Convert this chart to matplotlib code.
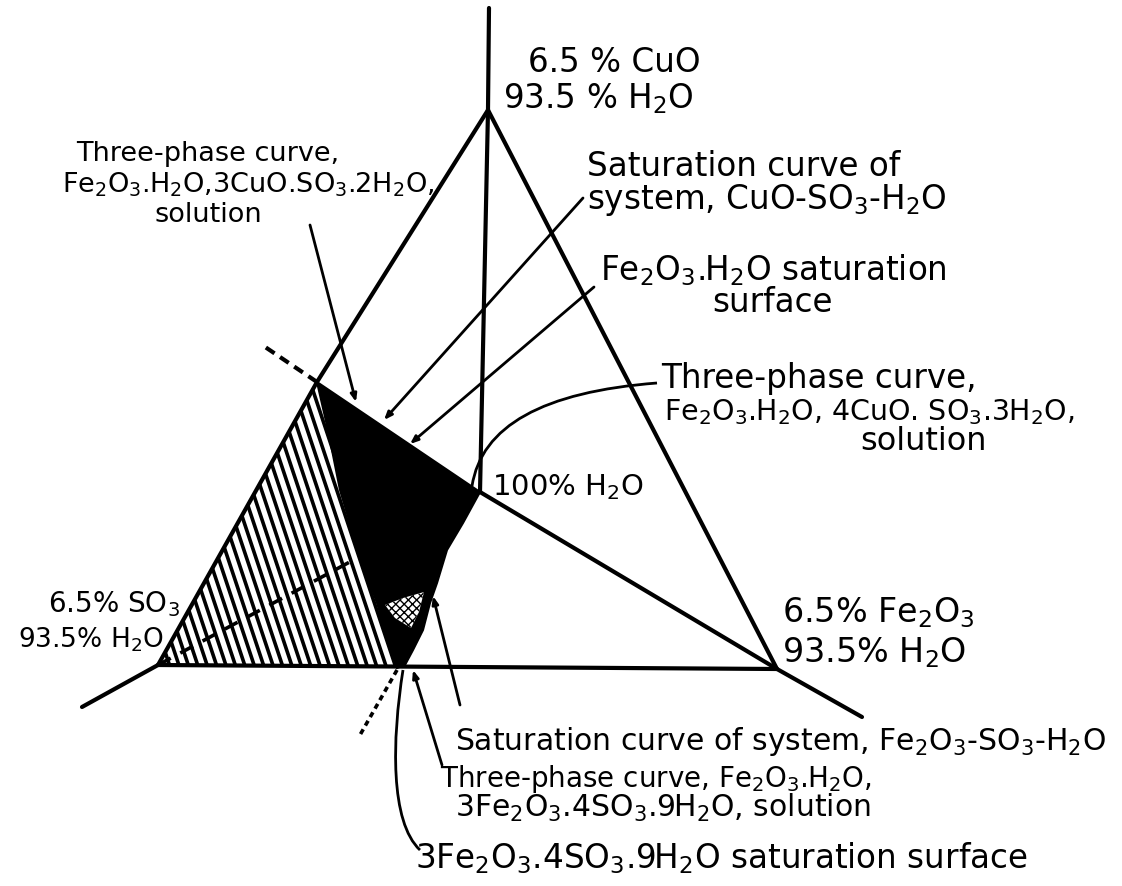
import numpy as np
import matplotlib.pyplot as plt
from matplotlib.patches import Polygon, PathPatch
from matplotlib.path import Path
from matplotlib.collections import LineCollection

plt.rcParams['font.family'] = 'DejaVu Sans'
plt.rcParams['mathtext.fontset'] = 'custom'
plt.rcParams['mathtext.rm'] = 'DejaVu Sans'
plt.rcParams['mathtext.default'] = 'regular'
plt.rcParams['hatch.linewidth'] = 1.0

# corner points of the projected diagram (drawing units, y downwards)
water = (480, 492)          # 100 % H2O
cuo = (488, 110)            # 6.5 % CuO, 93.5 % H2O
so3 = (158, 665)            # 6.5 % SO3, 93.5 % H2O
fe2o3 = (777, 669)          # 6.5 % Fe2O3, 93.5 % H2O
cuo_axis_end = (489, 8)
so3_axis_end = (82, 707)
fe2o3_axis_end = (862, 717)
edge_point = (317, 382)     # CuO-SO3-H2O curve meets the CuO-SO3 edge

# Fe2O3.H2O saturation surface (solid black)
surface_x = [317, 480, 463, 447, 437, 430, 423, 413, 405, 397, 392, 385, 377, 360, 340, 328]
surface_y = [382, 492, 523, 550, 583, 603, 630, 650, 665, 668, 655, 630, 603, 557, 490, 430]

# 3Fe2O3.4SO3.9H2O saturation surface (stippled)
basic_x = [385, 403, 424, 419, 411, 395]
basic_y = [605, 598, 592, 612, 628, 618]

# hatched face, bounded by the SO3 corner and the black surface
hatch_x = [so3[0], 317, 328, 340, 360, 377, 385, 392, 397]
hatch_y = [so3[1], 382, 430, 490, 557, 603, 630, 655, 668]

# leader lines: label end -> curve end
leaders = [
    ((310, 225), (356, 402)),
    ((583, 198), (384, 420)),
    ((594, 287), (410, 444)),
    ((460, 705), (433, 596)),
    ((442, 765), (413, 670)),
]

# text, left x, baseline y, size
labels = [
    ("Three-phase curve,", 76, 161, 19.5),
    (r"Fe$_2$O$_3$.H$_2$O,3CuO.SO$_3$.2H$_2$O,", 62, 192, 19.5),
    ("solution", 155, 222, 19.5),
    ("Three-phase curve,", 661, 388, 23.5),
    (r"Fe$_2$O$_3$.H$_2$O, 4CuO. SO$_3$.3H$_2$O,", 664, 420, 20.5),
    ("solution", 860, 450, 23),
    (r"100% H$_2$O", 492, 495, 21),
    ("6.5 % CuO", 528, 72, 23.5),
    (r"93.5 % H$_2$O", 503, 108, 23.5),
    (r"6.5% SO$_3$", 48, 612, 20),
    (r"93.5% H$_2$O", 18, 648, 19),
    (r"6.5% Fe$_2$O$_3$", 782, 622, 24),
    (r"93.5% H$_2$O", 782, 662, 24),
    (r"Saturation curve of system, Fe$_2$O$_3$-SO$_3$-H$_2$O", 455, 750, 21.5),
    (r"Three-phase curve, Fe$_2$O$_3$.H$_2$O,", 440, 787, 20),
    (r"3Fe$_2$O$_3$.4SO$_3$.9H$_2$O, solution", 455, 817, 21.5),
    (r"3Fe$_2$O$_3$.4SO$_3$.9H$_2$O saturation surface", 415, 868, 23.5),
]

fig = plt.figure(figsize=(11.22, 8.86), dpi=100)
ax = fig.add_axes([0, 0, 1, 1])
ax.set_xlim(0, 1122)
ax.set_ylim(886, 0)
ax.axis('off')

# hatched face
hatch_face = Polygon(np.column_stack([hatch_x, hatch_y]), closed=True,
                     facecolor='white', edgecolor='none', zorder=1)
ax.add_patch(hatch_face)
offsets = np.arange(-400, 600, 9.4)
segs = [[(c, 0), (c + 886 / 3.0, 886)] for c in offsets]
lc = LineCollection(segs, colors='black', linewidths=2.6, zorder=2)
lc.set_clip_path(hatch_face)
ax.add_collection(lc)

# hidden part of the H2O-SO3 axis
ax.plot([so3[0], water[0]], [so3[1], water[1]], color='black', lw=2.6,
        dashes=(4, 3), zorder=3)

# black surface and the stippled patch on it
ax.add_patch(Polygon(np.column_stack([surface_x, surface_y]), closed=True,
                     facecolor='black', edgecolor='black', lw=1.5, zorder=4))
ax.add_patch(Polygon(np.column_stack([basic_x, basic_y]), closed=True,
                     facecolor='white', edgecolor='black', hatch='xxxx', lw=0,
                     zorder=5))

line_kw = dict(color='black', lw=3.0, solid_capstyle='round', zorder=6)
# triangle of 6.5 % compositions
ax.plot([cuo[0], edge_point[0], so3[0]], [cuo[1], edge_point[1], so3[1]], **line_kw)
ax.plot([so3[0], fe2o3[0]], [so3[1], fe2o3[1]], **line_kw)
ax.plot([fe2o3[0], cuo[0]], [fe2o3[1], cuo[1]], **line_kw)
# axes from the water corner
ax.plot([cuo_axis_end[0], cuo[0], water[0]], [cuo_axis_end[1], cuo[1], water[1]], **line_kw)
ax.plot([water[0], fe2o3[0], fe2o3_axis_end[0]],
        [water[1], fe2o3[1], fe2o3_axis_end[1]], **line_kw)
ax.plot([so3[0], so3_axis_end[0]], [so3[1], so3_axis_end[1]], **line_kw)

# dashed continuations of the saturation curves
t = 0.33
ext = (edge_point[0] + t * (edge_point[0] - water[0]),
       edge_point[1] + t * (edge_point[1] - water[1]))
ax.plot([edge_point[0], ext[0]], [edge_point[1], ext[1]], color='black', lw=3.0,
        dashes=(2.5, 1.6), zorder=6)
ax.plot([397, 360], [670, 735], color='black', lw=2.6, dashes=(1.5, 1.2), zorder=6)

# leaders
arrow_kw = dict(arrowstyle='-|>,head_length=0.45,head_width=0.18', color='black',
                lw=2.0, shrinkA=0, shrinkB=0)
for start, end in leaders:
    ax.annotate('', xy=end, xytext=start, arrowprops=arrow_kw, zorder=7)

curve1 = Path([(657, 383), (486, 396), (472, 486)], [Path.MOVETO, Path.CURVE3, Path.CURVE3])
ax.add_patch(PathPatch(curve1, facecolor='none', edgecolor='black', lw=2.0, zorder=7))
curve2 = Path([(403, 670), (392, 740), (390, 822), (420, 850)],
              [Path.MOVETO, Path.CURVE4, Path.CURVE4, Path.CURVE4])
ax.add_patch(PathPatch(curve2, facecolor='none', edgecolor='black', lw=2.0, zorder=7))

for txt, x, y, size in labels:
    ax.text(x, y, txt, fontsize=size, ha='left', va='baseline', color='black', zorder=8)

# two-line labels at the upper right
ax.text(587, 150, "Saturation curve of\n" + r"system, CuO-SO$_3$-H$_2$O",
        fontsize=23.5, ha='left', va='top', linespacing=0.95, zorder=8)
ax.text(773, 252, r"Fe$_2$O$_3$.H$_2$O saturation" + "\nsurface",
        fontsize=23.5, ha='center', va='top', multialignment='center',
        linespacing=0.95, zorder=8)

fig.savefig('out.png', dpi=100, facecolor='white')
